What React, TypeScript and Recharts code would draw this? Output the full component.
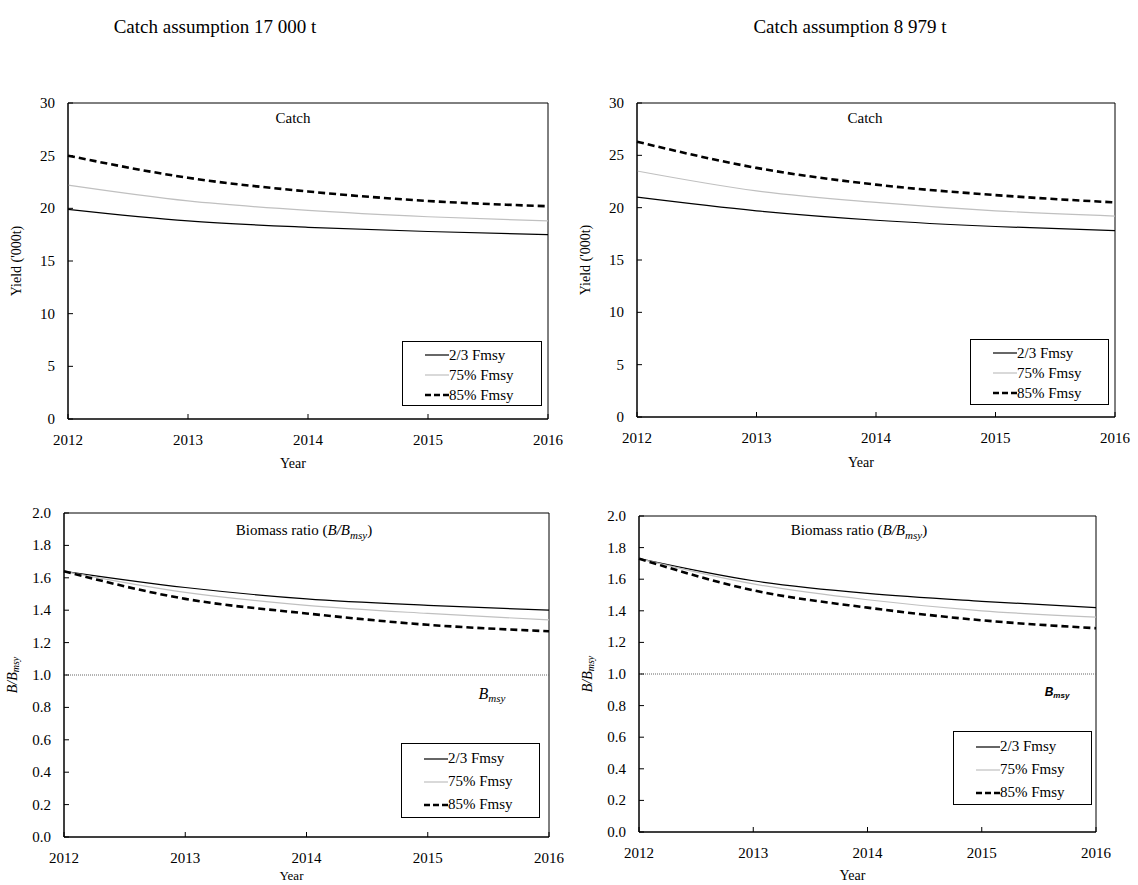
import React from "react";
import {
  LineChart,
  Line,
  XAxis,
  YAxis,
  ReferenceLine,
  ReferenceArea,
  Legend,
} from "recharts";

const years = [2012, 2013, 2014, 2015, 2016];
const seriesNames = ["2/3 Fmsy", "75% Fmsy", "85% Fmsy"];
const titles = ["Catch assumption 17 000 t", "Catch assumption 8 979 t"];

// yield ('000 t), catch assumption 17 000 t
const yieldA23 = [19.9, 18.8, 18.2, 17.8, 17.5];
const yieldA75 = [22.2, 20.7, 19.8, 19.2, 18.8];
const yieldA85 = [25.0, 22.9, 21.6, 20.7, 20.2];
// yield ('000 t), catch assumption 8 979 t
const yieldB23 = [21.0, 19.7, 18.8, 18.2, 17.8];
const yieldB75 = [23.5, 21.6, 20.5, 19.7, 19.2];
const yieldB85 = [26.3, 23.8, 22.2, 21.2, 20.5];

// B/Bmsy
const bioA23 = [1.64, 1.54, 1.47, 1.43, 1.4];
const bioA75 = [1.64, 1.51, 1.43, 1.38, 1.34];
const bioA85 = [1.64, 1.47, 1.38, 1.31, 1.27];
const bioB23 = [1.73, 1.59, 1.51, 1.46, 1.42];
const bioB75 = [1.73, 1.57, 1.47, 1.4, 1.36];
const bioB85 = [1.73, 1.53, 1.42, 1.34, 1.29];

const yieldTicks = [0, 5, 10, 15, 20, 25, 30];
const ratioTicks = [0, 0.2, 0.4, 0.6, 0.8, 1.0, 1.2, 1.4, 1.6, 1.8, 2.0];
const bmsyLevel = 1.0;

const SERIF = "'Times New Roman', 'Liberation Serif', Times, serif";
const SANS = "Arial, 'Liberation Sans', sans-serif";

const styles = [
  { key: "f23", stroke: "#000", width: 1.2, dash: undefined },
  { key: "f75", stroke: "#c0c0c0", width: 1.2, dash: undefined },
  { key: "f85", stroke: "#000", width: 2.6, dash: "7 4" },
];

const makeRows = (a: number[], b: number[], c: number[]) =>
  years.map((year, i) => ({ year, f23: a[i], f75: b[i], f85: c[i] }));

const YW = 64; // y axis width
const XH = 60; // x axis height
const TOP = 12;
const RIGHT = 16;
const YGAP = 13;
const XGAP = 14;

const YTick = (props: any) => {
  const { x, y, payload, digits, fontSize } = props;
  return (
    <g>
      <line x1={x + YGAP} x2={x + YGAP + 5} y1={y} y2={y} stroke="#000" />
      <text
        x={x}
        y={y}
        dy={5}
        textAnchor="end"
        fontSize={fontSize}
        fontFamily={SERIF}
        fill="#000"
      >
        {Number(payload.value).toFixed(digits)}
      </text>
    </g>
  );
};

const XTick = (props: any) => {
  const { x, y, payload, fontSize } = props;
  return (
    <g>
      <line x1={x} x2={x} y1={y - XGAP} y2={y - XGAP - 5} stroke="#000" />
      <text
        x={x}
        y={y}
        dy={12}
        textAnchor="middle"
        fontSize={fontSize}
        fontFamily={SERIF}
        fill="#000"
      >
        {payload.value}
      </text>
    </g>
  );
};

const LegendBox = ({ rowH }: { rowH: number }) => (
  <div
    style={{
      border: "1px solid #000",
      background: "#fff",
      boxSizing: "border-box",
      width: "100%",
      height: "100%",
      paddingTop: 3,
      fontFamily: SERIF,
      fontSize: 15,
    }}
  >
    {seriesNames.map((name, i) => (
      <div
        key={name}
        style={{ display: "flex", alignItems: "center", height: rowH, paddingLeft: 22 }}
      >
        <svg width={24} height={10}>
          <line
            x1={0}
            x2={24}
            y1={5}
            y2={5}
            stroke={styles[i].stroke}
            strokeWidth={styles[i].width}
            strokeDasharray={i === 2 ? "6 3" : undefined}
          />
        </svg>
        <span>{name}</span>
      </div>
    ))}
  </div>
);

type PanelProps = {
  plot: { x: number; y: number; w: number; h: number };
  rows: any[];
  domain: [number, number];
  ticks: number[];
  digits: number;
  yLabel: React.ReactNode;
  xLabelDy: number;
  legend: { x: number; y: number; w: number; h: number; rowH: number };
  bmsy?: { dx: number; dy: number; sans: boolean };
  yearFont: number;
};

const Panel = (p: PanelProps) => {
  const left = p.plot.x - YW;
  const top = p.plot.y - TOP;
  const width = p.plot.w + YW + RIGHT;
  const height = p.plot.h + TOP + XH;
  return (
    <div style={{ position: "absolute", left, top }}>
      <LineChart
        width={width}
        height={height}
        data={p.rows}
        margin={{ top: TOP, right: RIGHT, left: 0, bottom: 0 }}
      >
        <XAxis
          dataKey="year"
          type="number"
          domain={[2012, 2016]}
          ticks={years}
          interval={0}
          height={XH}
          tickSize={0}
          tickLine={false}
          tickMargin={XGAP}
          axisLine={{ stroke: "#000" }}
          tick={<XTick fontSize={15} />}
          label={{
            content: (lp: any) => {
              const vb = lp.viewBox;
              return (
                <text
                  x={vb.x + vb.width / 2 - 15}
                  y={vb.y + p.xLabelDy}
                  textAnchor="middle"
                  fontSize={p.yearFont}
                  fontFamily={SERIF}
                  fill="#000"
                >
                  Year
                </text>
              );
            },
          }}
        />
        <YAxis
          type="number"
          domain={p.domain}
          ticks={p.ticks}
          interval={0}
          width={YW}
          tickSize={0}
          tickLine={false}
          tickMargin={YGAP}
          axisLine={{ stroke: "#000" }}
          tick={<YTick digits={p.digits} fontSize={15} />}
          label={{
            content: (lp: any) => {
              const vb = lp.viewBox;
              const cx = vb.x + vb.width - 50;
              const cy = vb.y + vb.height / 2;
              return (
                <text
                  x={cx}
                  y={cy}
                  transform={`rotate(-90 ${cx} ${cy})`}
                  textAnchor="middle"
                  dominantBaseline="middle"
                  fontSize={14}
                  fontFamily={SERIF}
                  fill="#000"
                >
                  {p.yLabel}
                </text>
              );
            },
          }}
        />
        <ReferenceArea
          x1={2012}
          x2={2016}
          y1={p.domain[0]}
          y2={p.domain[1]}
          fill="none"
          stroke="#000"
          strokeWidth={1}
        />
        {p.bmsy && (
          <ReferenceLine
            y={bmsyLevel}
            stroke="#666"
            strokeWidth={1}
            strokeDasharray="1 1"
            label={{
              content: (lp: any) => {
                const vb = lp.viewBox;
                const bx = vb.x + vb.width - p.bmsy!.dx;
                const by = vb.y + p.bmsy!.dy;
                return p.bmsy!.sans ? (
                  <text
                    x={bx}
                    y={by}
                    textAnchor="middle"
                    fontFamily={SANS}
                    fontWeight="bold"
                    fontStyle="italic"
                    fontSize={12}
                    fill="#000"
                  >
                    B<tspan fontSize={8} dy={2}>msy</tspan>
                  </text>
                ) : (
                  <text
                    x={bx}
                    y={by}
                    textAnchor="middle"
                    fontFamily={SERIF}
                    fontStyle="italic"
                    fontSize={16}
                    fill="#000"
                  >
                    B<tspan fontSize={11} dy={3}>msy</tspan>
                  </text>
                );
              },
            }}
          />
        )}
        {styles.map((s) => (
          <Line
            key={s.key}
            dataKey={s.key}
            type="monotone"
            stroke={s.stroke}
            strokeWidth={s.width}
            strokeDasharray={s.dash}
            dot={false}
            activeDot={false}
            isAnimationActive={false}
          />
        ))}
        <Legend
          layout="vertical"
          align="center"
          verticalAlign="middle"
          wrapperStyle={{
            left: p.legend.x - left,
            top: p.legend.y - top,
            width: p.legend.w,
            height: p.legend.h,
          }}
          content={() => <LegendBox rowH={p.legend.rowH} />}
        />
      </LineChart>
    </div>
  );
};

const Text = ({
  x,
  y,
  size,
  children,
}: {
  x: number;
  y: number;
  size: number;
  children: React.ReactNode;
}) => (
  <div
    style={{
      position: "absolute",
      left: x,
      top: y,
      transform: "translate(-50%, -50%)",
      whiteSpace: "nowrap",
      fontFamily: SERIF,
      fontSize: size,
      color: "#000",
      lineHeight: 1,
    }}
  >
    {children}
  </div>
);

const bLabel = (
  <>
    <tspan fontStyle="italic">B/B</tspan>
    <tspan fontStyle="italic" fontSize={10} dy={3}>
      msy
    </tspan>
  </>
);

const BiomassTitle = () => (
  <span>
    Biomass ratio (<i>B/B</i>
    <sub style={{ fontSize: 11, fontStyle: "italic" }}>msy</sub>)
  </span>
);

export default function App() {
  return (
    <div
      style={{
        position: "absolute",
        left: 0,
        top: 0,
        width: 1138,
        height: 885,
        background: "#fff",
        overflow: "hidden",
      }}
    >
      <Text x={215} y={26} size={19}>
        {titles[0]}
      </Text>
      <Text x={850} y={26} size={19}>
        {titles[1]}
      </Text>

      <Panel
        plot={{ x: 68, y: 103, w: 480, h: 316 }}
        rows={makeRows(yieldA23, yieldA75, yieldA85)}
        domain={[0, 30]}
        ticks={yieldTicks}
        digits={0}
        yLabel="Yield ('000t)"
        xLabelDy={49}
        legend={{ x: 402, y: 341, w: 140, h: 65, rowH: 20 }}
        yearFont={14}
      />
      <Panel
        plot={{ x: 637, y: 103, w: 478, h: 314 }}
        rows={makeRows(yieldB23, yieldB75, yieldB85)}
        domain={[0, 30]}
        ticks={yieldTicks}
        digits={0}
        yLabel="Yield ('000t)"
        xLabelDy={50}
        legend={{ x: 970, y: 339, w: 139, h: 66, rowH: 20 }}
        yearFont={14}
      />
      <Panel
        plot={{ x: 64, y: 513, w: 485, h: 324 }}
        rows={makeRows(bioA23, bioA75, bioA85)}
        domain={[0, 2]}
        ticks={ratioTicks}
        digits={1}
        yLabel={bLabel}
        xLabelDy={43}
        legend={{ x: 401, y: 743, w: 139, h: 75, rowH: 23 }}
        bmsy={{ dx: 57, dy: 24, sans: false }}
        yearFont={13}
      />
      <Panel
        plot={{ x: 639, y: 516, w: 457, h: 316 }}
        rows={makeRows(bioB23, bioB75, bioB85)}
        domain={[0, 2]}
        ticks={ratioTicks}
        digits={1}
        yLabel={bLabel}
        xLabelDy={48}
        legend={{ x: 953, y: 731, w: 139, h: 74, rowH: 23 }}
        bmsy={{ dx: 39, dy: 22, sans: true }}
        yearFont={14}
      />

      <Text x={293} y={118} size={15}>
        Catch
      </Text>
      <Text x={865} y={118} size={15}>
        Catch
      </Text>
      <Text x={304} y={532} size={15}>
        <BiomassTitle />
      </Text>
      <Text x={859} y={532} size={15}>
        <BiomassTitle />
      </Text>
    </div>
  );
}
